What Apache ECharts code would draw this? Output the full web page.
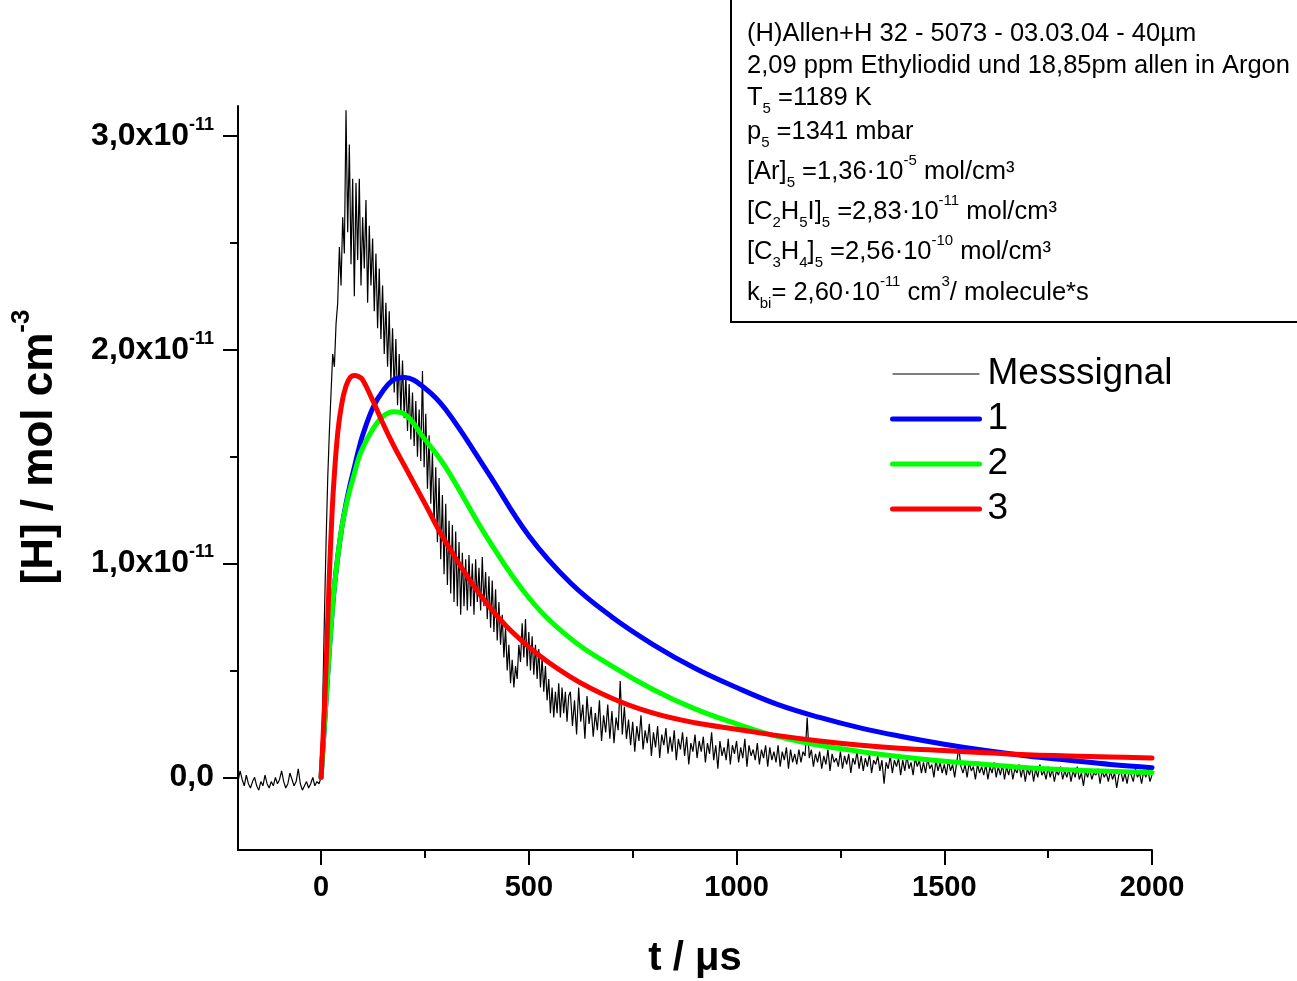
<!DOCTYPE html>
<html><head><meta charset="utf-8">
<script src="https://cdn.jsdelivr.net/npm/echarts@6/dist/echarts.min.js"></script>
<style>html,body{margin:0;padding:0;background:#fff}#c{width:1297px;height:981px}</style>
</head><body><div id="c"></div>
<script>
// values in units of 1e-11 mol cm^-3, time in microseconds
const signalPreStart = -200, signalPreStep = 5;
const signalPre = [
 -0.02, 0.03, -0.01, -0.04, 0.01, -0.03, -0.05, -0.02, 0.00, -0.04,
 -0.06, -0.02, -0.04, 0.01, -0.03, -0.05, -0.02, -0.04, 0.00, -0.03,
 -0.01, 0.03, -0.02, -0.05, -0.03, 0.02, -0.01, -0.04, -0.02, 0.04,
 -0.03, -0.06, -0.04, -0.02, -0.05, -0.03, 0.00, -0.04, -0.02, -0.03
];
const signalPeakStart = 0, signalPeakStep = 4;
const signalPeak = [
 0.00, 0.35, 0.75, 1.10, 1.40, 1.62, 1.80, 1.98, 1.92, 2.12,
 2.22, 2.48, 2.30, 2.62, 2.45, 3.12, 2.55, 2.96, 2.40, 2.80,
 2.25, 2.78, 2.42, 2.80, 2.30, 2.62, 2.38, 2.70, 2.22, 2.58,
 2.30, 2.52, 2.18, 2.45, 2.10, 2.38, 2.05, 2.30, 1.98, 2.22,
 1.92, 2.18, 1.85, 2.10, 1.80, 2.05, 1.74, 1.98, 1.70, 1.95,
 1.68, 1.88, 1.62, 1.84, 1.58, 1.80, 1.55, 1.76, 1.50, 1.72,
 1.48, 1.90, 1.45, 1.70, 1.35, 1.60, 1.28, 1.52, 1.18, 1.45,
 1.10, 1.40, 1.02, 1.32, 0.95, 1.28, 0.90, 1.20, 0.86, 1.18,
 0.82, 1.15, 0.80, 1.10, 0.76, 1.05, 0.80, 1.02, 0.78, 1.04,
 0.80, 1.00, 0.76, 1.02, 0.82, 0.98, 0.78, 1.03, 0.80, 0.96,
 0.74, 0.94, 0.70, 0.92, 0.68, 0.88, 0.64, 0.82, 0.62, 0.76,
 0.56, 0.70, 0.50, 0.62, 0.44, 0.55, 0.42, 0.52, 0.46, 0.62,
 0.54, 0.72, 0.56, 0.74, 0.52, 0.68, 0.50, 0.66, 0.48, 0.62,
 0.46, 0.60, 0.42, 0.56, 0.40, 0.52, 0.36, 0.46, 0.30, 0.42,
 0.28, 0.40, 0.30, 0.44, 0.28, 0.42, 0.30, 0.40, 0.26, 0.38
];
const signalTailStart = 600, signalTailStep = 5;
const signalTail = [
 0.40, 0.24, 0.36, 0.20, 0.42, 0.26, 0.34, 0.18, 0.38, 0.25,
 0.33, 0.19, 0.30, 0.22, 0.36, 0.17, 0.29, 0.21, 0.34, 0.18,
 0.31, 0.16, 0.28, 0.22, 0.45, 0.20, 0.33, 0.18, 0.27, 0.15,
 0.26, 0.12, 0.24, 0.17, 0.29, 0.13, 0.22, 0.16, 0.25, 0.10,
 0.21, 0.14, 0.24, 0.09, 0.20, 0.15, 0.23, 0.11, 0.19, 0.12,
 0.22, 0.08, 0.18, 0.13, 0.21, 0.10, 0.19, 0.06, 0.16, 0.12,
 0.20, 0.09, 0.17, 0.12, 0.19, 0.07, 0.16, 0.11, 0.21, 0.08,
 0.15, 0.04, 0.17, 0.10, 0.14, 0.08, 0.18, 0.06, 0.15, 0.11,
 0.17, 0.07, 0.14, 0.09, 0.18, 0.05, 0.15, 0.10, 0.13, 0.08,
 0.16, 0.06, 0.13, 0.09, 0.15, 0.05, 0.14, 0.08, 0.12, 0.07,
 0.15, 0.05, 0.12, 0.08, 0.14, 0.04, 0.13, 0.07, 0.11, 0.06,
 0.13, 0.07, 0.12, 0.10, 0.28, 0.09, 0.13, 0.05, 0.11, 0.07,
 0.12, 0.04, 0.10, 0.06, 0.13, 0.03, 0.11, 0.07, 0.09, 0.05,
 0.12, 0.04, 0.10, 0.06, 0.11, 0.02, 0.09, 0.06, 0.12, 0.04,
 0.10, 0.03, 0.09, 0.05, 0.11, 0.02, 0.08, 0.06, 0.10, 0.03,
 0.08, -0.03, 0.07, 0.04, 0.10, 0.02, 0.08, 0.05, 0.09, 0.01,
 0.08, 0.03, 0.10, 0.04, 0.07, 0.01, 0.09, 0.05, 0.08, 0.02,
 0.07, 0.02, 0.09, 0.04, 0.06, 0.00, 0.08, 0.03, 0.07, 0.02,
 0.06, 0.01, 0.08, 0.03, 0.06, 0.00, 0.07, 0.14, 0.05, 0.02,
 0.06, 0.00, 0.07, 0.03, 0.05, -0.01, 0.06, 0.02, 0.05, 0.01,
 0.06, -0.01, 0.05, 0.02, 0.07, 0.00, 0.05, 0.01, 0.06, -0.01,
 0.05, 0.01, 0.06, -0.01, 0.04, 0.02, 0.06, 0.00, 0.05, -0.02,
 0.04, 0.01, 0.05, -0.02, 0.04, 0.00, 0.06, 0.01, 0.03, -0.01,
 0.05, 0.00, 0.04, -0.02, 0.03, 0.01, 0.05, -0.01, 0.03, 0.00,
 0.04, -0.02, 0.03, 0.00, 0.05, -0.01, 0.02, -0.04, 0.03, 0.00,
 0.04, -0.01, 0.02, 0.01, 0.04, -0.03, 0.03, 0.00, 0.02, -0.02,
 0.03, -0.01, 0.02, -0.05, 0.01, 0.03, -0.02, 0.02, -0.03, 0.03,
 0.01, -0.02, 0.04, 0.00, 0.02, -0.03, 0.03, 0.00, 0.04, -0.02,
 0.01
];
const fit1T = [0, 10, 20, 30, 40, 50, 60, 70, 80, 90, 100, 125, 150, 175, 200, 250, 300, 400, 500, 600, 700, 800, 900, 1000, 1100, 1200, 1300, 1400, 1500, 1600, 1700, 1800, 1900, 2000];
const fit1Y = [0, 0.30, 0.60, 0.85, 1.03, 1.17, 1.28, 1.37, 1.45, 1.53, 1.60, 1.73, 1.81, 1.86, 1.87, 1.82, 1.72, 1.43, 1.13, 0.91, 0.75, 0.62, 0.51, 0.42, 0.34, 0.28, 0.23, 0.19, 0.155, 0.125, 0.10, 0.08, 0.06, 0.045];
const fit2T = [0, 10, 20, 30, 40, 50, 60, 70, 80, 90, 100, 125, 150, 175, 200, 250, 300, 400, 500, 600, 700, 800, 900, 1000, 1100, 1200, 1300, 1400, 1500, 1600, 1700, 1800, 1900, 2000];
const fit2Y = [0, 0.30, 0.60, 0.85, 1.03, 1.17, 1.27, 1.35, 1.42, 1.49, 1.54, 1.63, 1.69, 1.71, 1.70, 1.58, 1.45, 1.12, 0.84, 0.65, 0.52, 0.41, 0.32, 0.25, 0.19, 0.15, 0.12, 0.095, 0.075, 0.06, 0.045, 0.035, 0.028, 0.022];
const fit3T = [0, 5, 10, 15, 20, 25, 30, 40, 50, 60, 70, 80, 90, 100, 125, 150, 175, 200, 250, 300, 400, 500, 600, 700, 800, 900, 1000, 1100, 1200, 1300, 1400, 1500, 1600, 1700, 1800, 1900, 2000];
const fit3Y = [0, 0.20, 0.42, 0.68, 0.95, 1.18, 1.36, 1.61, 1.75, 1.83, 1.87, 1.88, 1.875, 1.86, 1.76, 1.65, 1.55, 1.46, 1.28, 1.10, 0.81, 0.61, 0.47, 0.37, 0.30, 0.255, 0.225, 0.195, 0.17, 0.15, 0.135, 0.125, 0.115, 0.105, 0.10, 0.095, 0.09];

const seriesNames = ['Messsignal', '1', '2', '3'];
const xTickValues = [0, 500, 1000, 1500, 2000];
const xMinorTicks = [250, 750, 1250, 1750];
const yTickValues = [0, 1, 2, 3];
const yMinorTicks = [0.5, 1.5, 2.5];
const yTickExponent = '-11';

const infoLines = [
 '{m|(H)Allen+H 32 - 5073 - 03.03.04 - 40µm}',
 '{m|2,09 ppm Ethyliodid und 18,85pm allen in Argon}',
 '{m|T}{sub|5}{m| =1189 K}',
 '{m|p}{sub|5}{m| =1341 mbar}',
 '{m|[Ar]}{sub|5}{m| =1,36·10}{sup|-5}{m| mol/cm³}',
 '{m|[C}{sub|2}{m|H}{sub|5}{m|I]}{sub|5}{m| =2,83·10}{sup|-11}{m| mol/cm³}',
 '{m|[C}{sub|3}{m|H}{sub|4}{m|]}{sub|5}{m| =2,56·10}{sup|-10}{m| mol/cm³}',
 '{m|k}{sub|bi}{m|= 2,60·10}{sup|-11}{m| cm}{sup|3}{m|/ molecule*s}'
];
const infoCapCenters = [34, 66, 98, 132, 172, 212, 252, 293];

const FONT = 'Arial, "Liberation Sans", Helvetica, sans-serif';

function seg(start, step, vals) { return vals.map((v, i) => [start + i * step, v]); }
function pairs(ts, ys) { return ts.map((t, i) => [t, ys[i]]); }

const signalData = seg(signalPreStart, signalPreStep, signalPre)
  .concat(seg(signalPeakStart, signalPeakStep, signalPeak))
  .concat(seg(signalTailStart, signalTailStep, signalTail));

const axisLineStyle = { color: '#000', width: 2 };

const infoRich = {
  m: { fontSize: 25.5, fontFamily: FONT, color: '#000', height: 30, lineHeight: 30, verticalAlign: 'top' },
  sub: { fontSize: 15, fontFamily: FONT, color: '#000', height: 52, lineHeight: 52 },
  sup: { fontSize: 15, fontFamily: FONT, color: '#000', height: 8, lineHeight: 8, verticalAlign: 'top' }
};

const graphics = [
  { type: 'rect', shape: { x: 731, y: -4, width: 620, height: 326 }, style: { fill: '#fff', stroke: '#000', lineWidth: 2 }, z: 10 }
];
infoLines.forEach((t, i) => {
  graphics.push({ type: 'text', x: 747, y: infoCapCenters[i] - 15, z: 11,
    style: { text: t, rich: infoRich, align: 'left', verticalAlign: 'top' } });
});
graphics.push({ type: 'text', x: 40, y: 447, rotation: Math.PI / 2, z: 11,
  style: { text: '{t|[H] / mol cm}{s|-3}', align: 'center', verticalAlign: 'middle',
    rich: {
      t: { fontSize: 44, fontWeight: 'bold', fontFamily: FONT, color: '#000', height: 48, lineHeight: 48, verticalAlign: 'top' },
      s: { fontSize: 26, fontWeight: 'bold', fontFamily: FONT, color: '#000', height: 12, lineHeight: 12, verticalAlign: 'top' }
    } } });

const chart = echarts.init(document.getElementById('c'), null, { renderer: 'canvas' });
chart.setOption({
  animation: false,
  backgroundColor: '#fff',
  grid: { left: 238, right: 145, top: 106, bottom: 131, containLabel: false, outerBoundsMode: 'none' },
  legend: {
    data: seriesNames, orient: 'vertical', left: 885, top: 349,
    itemWidth: 87, itemHeight: 6, itemGap: 5,
    textStyle: { fontSize: 37, fontFamily: FONT, color: '#000', lineHeight: 40, padding: [0, 0, 0, 3] },
    lineStyle: { width: 'inherit' }, itemStyle: { opacity: 0 }
  },
  xAxis: [
    { type: 'value', min: -200, max: 2000, position: 'bottom',
      axisLine: { show: true, onZero: false, lineStyle: axisLineStyle },
      axisTick: { show: true, customValues: xTickValues, length: 15, lineStyle: axisLineStyle },
      axisLabel: { customValues: xTickValues, margin: 23, fontSize: 29, fontWeight: 'bold', color: '#000', fontFamily: FONT,
        formatter: function (v) { return String(v); } },
      splitLine: { show: false },
      name: 't / μs', nameLocation: 'middle', nameGap: 89,
      nameTextStyle: { fontSize: 40, fontWeight: 'bold', color: '#000', fontFamily: FONT } },
    { type: 'value', min: -200, max: 2000, position: 'bottom',
      axisLine: { show: false, onZero: false },
      axisTick: { show: true, customValues: xMinorTicks, length: 8, lineStyle: axisLineStyle },
      axisLabel: { show: false }, splitLine: { show: false } }
  ],
  yAxis: [
    { type: 'value', min: -0.34, max: 3.14, position: 'left',
      axisLine: { show: true, onZero: false, lineStyle: axisLineStyle },
      axisTick: { show: true, customValues: yTickValues, length: 15, lineStyle: axisLineStyle },
      axisLabel: { customValues: yTickValues, margin: 24,
        formatter: function (v) {
          const s = v.toFixed(1).replace('.', ',');
          return v === 0 ? '{b|' + s + '}' : '{b|' + s + 'x10}{s|' + yTickExponent + '}';
        },
        rich: {
          b: { fontSize: 32, fontWeight: 'bold', fontFamily: FONT, color: '#000', height: 32, lineHeight: 32, verticalAlign: 'top' },
          s: { fontSize: 18, fontWeight: 'bold', fontFamily: FONT, color: '#000', height: 10, lineHeight: 10, verticalAlign: 'top' }
        } },
      splitLine: { show: false } },
    { type: 'value', min: -0.34, max: 3.14, position: 'left',
      axisLine: { show: false, onZero: false },
      axisTick: { show: true, customValues: yMinorTicks, length: 8, lineStyle: axisLineStyle },
      axisLabel: { show: false }, splitLine: { show: false } }
  ],
  series: [
    { name: seriesNames[0], type: 'line', data: signalData, symbol: 'none', showSymbol: false,
      lineStyle: { color: '#000', width: 1.2 }, itemStyle: { color: '#000' }, z: 2 },
    { name: seriesNames[1], type: 'line', data: pairs(fit1T, fit1Y), symbol: 'none', showSymbol: false, smooth: 0.4,
      lineStyle: { color: '#0000ff', width: 5, cap: 'round' }, itemStyle: { color: '#0000ff' }, z: 3 },
    { name: seriesNames[2], type: 'line', data: pairs(fit2T, fit2Y), symbol: 'none', showSymbol: false, smooth: 0.4,
      lineStyle: { color: '#00ff00', width: 5, cap: 'round' }, itemStyle: { color: '#00ff00' }, z: 4 },
    { name: seriesNames[3], type: 'line', data: pairs(fit3T, fit3Y), symbol: 'none', showSymbol: false, smooth: 0.4,
      lineStyle: { color: '#ff0000', width: 5, cap: 'round' }, itemStyle: { color: '#ff0000' }, z: 5 }
  ],
  graphic: graphics
});
</script></body></html>
